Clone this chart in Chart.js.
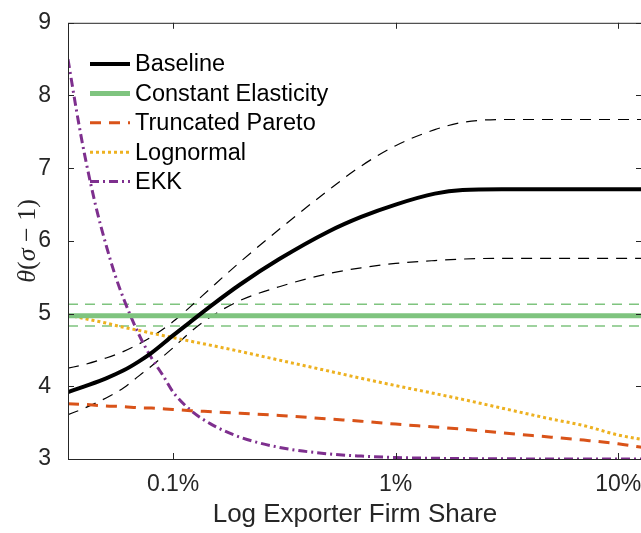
<!DOCTYPE html>
<html>
<head>
<meta charset="utf-8">
<script src="https://cdn.jsdelivr.net/npm/chart.js@4.4.1/dist/chart.umd.min.js"></script>
<style>
  html, body { margin: 0; padding: 0; background: #fff; overflow: hidden; }
  #wrap { width: 660px; height: 533px; }
</style>
</head>
<body>
<div id="wrap"><canvas id="elasticity"></canvas></div>
<script>
// exporter firm share, in percent (log axis)
const share = [0.0337, 0.04, 0.05, 0.06, 0.07, 0.08, 0.1, 0.12, 0.15, 0.2, 0.3, 0.5, 0.7, 1, 1.5, 2, 3, 5, 7, 10, 12.8];
const baseline   = [3.92, 4.00, 4.11, 4.22, 4.34, 4.46, 4.70, 4.89, 5.12, 5.40, 5.75, 6.13, 6.33, 6.50, 6.65, 6.70, 6.71, 6.71, 6.71, 6.71, 6.71];
const baselineHi = [4.25, 4.30, 4.39, 4.48, 4.58, 4.68, 4.89, 5.10, 5.37, 5.71, 6.16, 6.70, 7.03, 7.31, 7.53, 7.63, 7.67, 7.67, 7.67, 7.67, 7.67];
const baselineLo = [3.61, 3.70, 3.84, 3.98, 4.14, 4.28, 4.53, 4.75, 4.97, 5.18, 5.37, 5.55, 5.63, 5.69, 5.73, 5.75, 5.76, 5.76, 5.76, 5.76, 5.76];
const truncPareto = [3.76, 3.75, 3.73, 3.72, 3.705, 3.70, 3.68, 3.665, 3.65, 3.63, 3.60, 3.55, 3.52, 3.48, 3.44, 3.41, 3.36, 3.30, 3.26, 3.21, 3.16];
const lognormal  = [4.98, 4.93, 4.87, 4.81, 4.77, 4.73, 4.67, 4.62, 4.56, 4.48, 4.36, 4.21, 4.11, 4.01, 3.90, 3.82, 3.70, 3.55, 3.46, 3.33, 3.27];

// EKK drops fast, so it is read on a denser grid
const ekkShare = [0.0337, 0.037, 0.04, 0.045, 0.05, 0.055, 0.06, 0.07, 0.08, 0.09, 0.1, 0.12, 0.15, 0.2, 0.3, 0.5, 0.7, 1, 2, 5, 12.8];
const ekk      = [8.50, 7.75, 7.19, 6.47, 5.94, 5.52, 5.20, 4.72, 4.39, 4.15, 3.92, 3.67, 3.47, 3.30, 3.16, 3.07, 3.04, 3.02, 3.006, 3.001, 3.0];

// constant elasticity estimate and its band
const ceShare = [0.0337, 12.8];
const constElast = [4.97, 4.97];
const constHi = [5.13, 5.13];
const constLo = [4.83, 4.83];

const xTicks = [0.1, 1, 10];
const yTicks = [3, 4, 5, 6, 7, 8, 9];

const sans = "'Liberation Sans', Arial, sans-serif";
const axisColor = '#262626';

function pts(ys, xs) {
  xs = xs || share;
  return xs.map((v, i) => ({x: v, y: ys[i]}));
}

function line(label, data, color, width, dash) {
  return {
    label: label,
    data: data,
    borderColor: color,
    backgroundColor: color,
    borderWidth: width,
    borderDash: dash || [],
    pointRadius: 0,
    fill: false,
    cubicInterpolationMode: 'monotone'
  };
}

// first dataset is drawn on top; first five go in the legend
const datasets = [
  line('Baseline', pts(baseline), '#000000', 4),
  line('Constant Elasticity', pts(constElast, ceShare), '#7fc47f', 5),
  line('Truncated Pareto', pts(truncPareto), '#d95319', 3, [11, 8]),
  line('Lognormal', pts(lognormal), '#edb120', 3, [3, 3]),
  line('EKK', pts(ekk, ekkShare), '#7e2f8e', 3, [9, 4, 2, 4]),
  line('', pts(baselineHi), '#000000', 1.2, [11, 8]),
  line('', pts(baselineLo), '#000000', 1.2, [11, 8]),
  line('', pts(constHi, ceShare), '#7fc47f', 1.5, [10, 7]),
  line('', pts(constLo, ceShare), '#7fc47f', 1.5, [10, 7])
];

const frame = {
  id: 'frame',
  afterDatasetsDraw(chart) {
    const {ctx, chartArea: a, scales: {x, y}} = chart;
    ctx.save();

    // box and inward ticks
    ctx.strokeStyle = axisColor;
    ctx.lineWidth = 1;
    ctx.setLineDash([]);
    ctx.strokeRect(a.left + 0.5, a.top + 0.5, a.right - a.left, a.bottom - a.top);
    ctx.beginPath();
    xTicks.forEach(v => {
      const px = Math.round(x.getPixelForValue(v)) + 0.5;
      ctx.moveTo(px, a.bottom); ctx.lineTo(px, a.bottom - 6);
      ctx.moveTo(px, a.top); ctx.lineTo(px, a.top + 6);
    });
    yTicks.forEach(v => {
      const py = Math.round(y.getPixelForValue(v)) + 0.5;
      ctx.moveTo(a.left, py); ctx.lineTo(a.left + 6, py);
      ctx.moveTo(a.right, py); ctx.lineTo(a.right - 6, py);
    });
    ctx.stroke();

    // legend, no box
    ctx.font = '23.5px ' + sans;
    ctx.textBaseline = 'middle';
    ctx.textAlign = 'left';
    chart.data.datasets.slice(0, 5).forEach((ds, i) => {
      const ly = 64 + i * 29.4;
      ctx.strokeStyle = ds.borderColor;
      ctx.lineWidth = ds.borderWidth;
      ctx.setLineDash(ds.borderDash);
      ctx.beginPath();
      ctx.moveTo(90, ly);
      ctx.lineTo(130, ly);
      ctx.stroke();
      ctx.fillStyle = '#000';
      ctx.fillText(ds.label, 135, ly + 1);
    });

    // y axis title, math style
    ctx.setLineDash([]);
    ctx.translate(28, (a.top + a.bottom) / 2);
    ctx.rotate(-Math.PI / 2);
    const parts = [['θ', true], ['(', false], ['σ', true], [' − 1)', false]];
    const fontOf = it => (it ? 'italic ' : '') + "26px 'Liberation Serif', 'Times New Roman', serif";
    let total = 0;
    parts.forEach(p => { ctx.font = fontOf(p[1]); total += ctx.measureText(p[0]).width; });
    let cx = -total / 2;
    ctx.fillStyle = axisColor;
    parts.forEach(p => {
      ctx.font = fontOf(p[1]);
      ctx.fillText(p[0], cx, 0);
      cx += ctx.measureText(p[0]).width;
    });

    ctx.restore();
  }
};

new Chart(document.getElementById('elasticity'), {
  type: 'line',
  data: { datasets: datasets },
  options: {
    responsive: true,
    maintainAspectRatio: false,
    animation: false,
    layout: { padding: { top: 10, right: 18, left: 0, bottom: 0 } },
    plugins: {
      legend: { display: false },
      tooltip: { enabled: false }
    },
    scales: {
      x: {
        type: 'logarithmic',
        min: 0.0337,
        max: 12.8,
        grid: { display: false },
        border: { display: false },
        afterBuildTicks: s => { s.ticks = xTicks.map(v => ({value: v})); },
        afterFit: s => { s.height = 74; },
        ticks: {
          maxRotation: 0,
          autoSkip: false,
          padding: 4,
          color: axisColor,
          font: { family: sans, size: 23 },
          callback: v => v + '%'
        },
        title: {
          display: true,
          text: 'Log Exporter Firm Share',
          color: axisColor,
          font: { family: sans, size: 26 },
          padding: { top: 0, bottom: 3 }
        }
      },
      y: {
        min: 3,
        max: 9,
        grid: { display: false },
        border: { display: false },
        afterFit: s => { s.width = 68; },
        ticks: {
          stepSize: 1,
          padding: 9,
          color: axisColor,
          font: { family: sans, size: 23 }
        }
      }
    }
  },
  plugins: [frame]
});
</script>
</body>
</html>
